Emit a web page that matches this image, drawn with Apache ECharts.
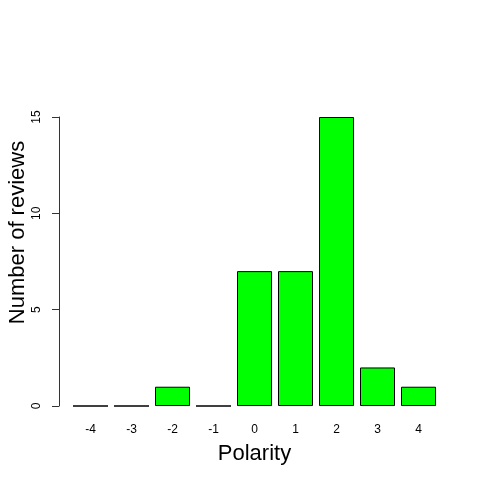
<!DOCTYPE html>
<html><head><meta charset="utf-8">
<script src="https://cdn.jsdelivr.net/npm/echarts@6/dist/echarts.min.js"></script>
<style>html,body{margin:0;padding:0;background:#fff}#c{width:480px;height:480px}</style>
</head><body><div id="c"></div>
<script>
const categories = ['-4','-3','-2','-1','0','1','2','3','4'];
const counts = [0,0,1,0,7,7,15,2,1];
const yTicks = [0,5,10,15];

const chart = echarts.init(document.getElementById('c'));
chart.setOption({
  animation: false,
  backgroundColor: '#fff',
  textStyle: {fontFamily: 'Liberation Sans, Arial, sans-serif'},
  grid: [
    {left: 70, right: 41, top: 117, bottom: 74, containLabel: false, outerBoundsMode: 'none'},
    {left: 59, right: 30, top: 59, bottom: 74, containLabel: false, outerBoundsMode: 'none'}
  ],
  xAxis: [{
    type: 'category', data: categories, gridIndex: 0,
    axisLine: {show: false}, axisTick: {show: false},
    axisLabel: {color: '#000', fontSize: 12, margin: 18, fontFamily: 'Liberation Sans'},
    name: 'Polarity', nameLocation: 'middle', nameGap: 37,
    nameTextStyle: {fontSize: 22, color: '#000', fontFamily: 'Liberation Sans'}
  }, {
    type: 'value', gridIndex: 1, show: false
  }],
  yAxis: [{
    type: 'value', gridIndex: 0, min: yTicks[0], max: yTicks[yTicks.length-1], interval: 5,
    offset: 11,
    splitLine: {show: false},
    axisLine: {show: true, lineStyle: {color: '#333', width: 1}},
    axisTick: {show: true, length: 7, lineStyle: {color: '#333'}},
    axisLabel: {color: '#000', fontSize: 12, rotate: 90, margin: 16, fontFamily: 'Liberation Sans'}
  }, {
    type: 'value', gridIndex: 1, min: 0, max: 18,
    splitLine: {show: false}, axisLine: {show: false}, axisTick: {show: false}, axisLabel: {show: false},
    name: 'Number of reviews', nameLocation: 'middle', nameGap: 30,
    nameTextStyle: {fontSize: 22, color: '#000', fontFamily: 'Liberation Sans'}
  }],
  series: [{
    type: 'bar', data: counts, barWidth: 35, xAxisIndex: 0, yAxisIndex: 0,
    itemStyle: {color: '#00ff00', borderColor: '#000', borderWidth: 1}
  }]
});
</script></body></html>
